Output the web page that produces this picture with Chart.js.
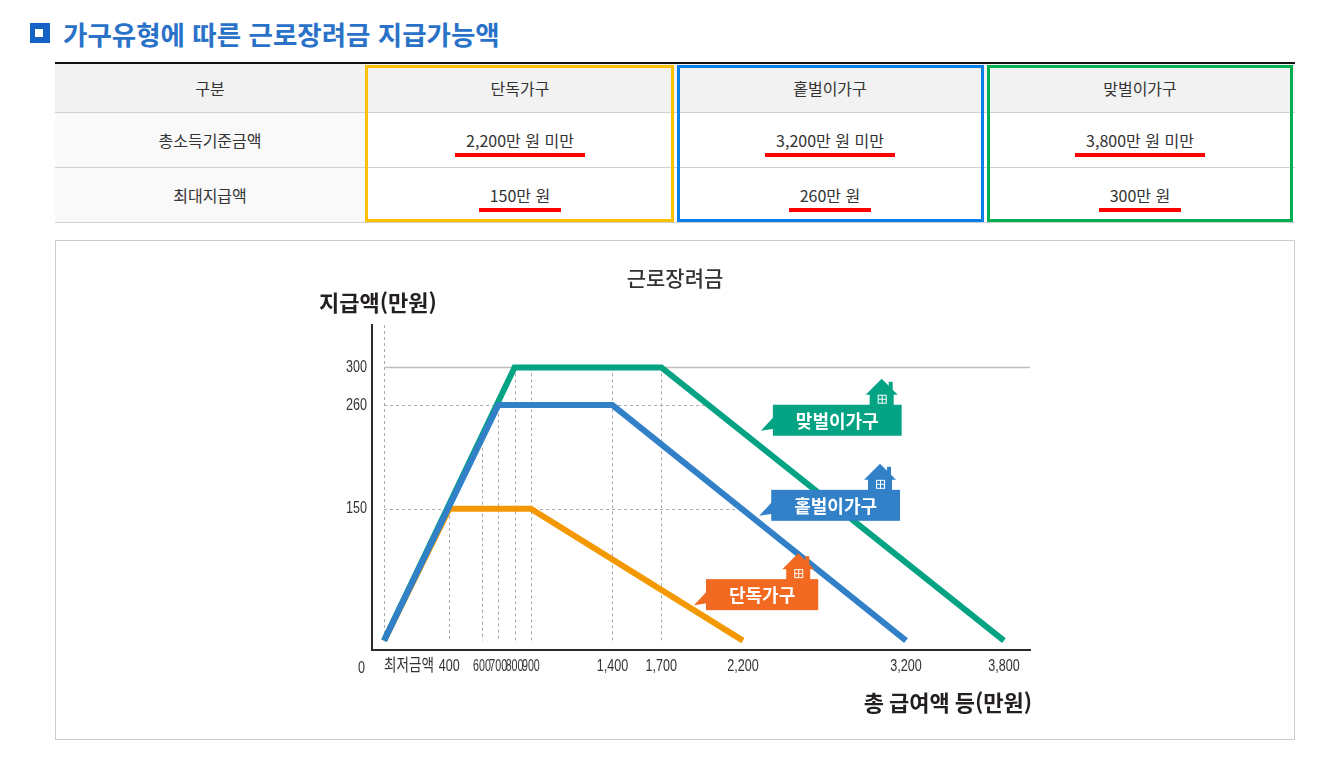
<!DOCTYPE html>
<html lang="ko">
<head>
<meta charset="utf-8">
<title>가구유형에 따른 근로장려금 지급가능액</title>
<script src="https://cdn.jsdelivr.net/npm/chart.js@4.4.1/dist/chart.umd.min.js"></script>
<style>
  body { margin: 0; width: 1319px; height: 774px; background: #fff; position: relative; overflow: hidden;
         font-family: 'Noto Sans CJK KR', 'Noto Sans', sans-serif; color: #333; }
  .heading { position: absolute; left: 30px; top: 12px; height: 42px; display: flex; align-items: center; }
  .heading .icon { width: 20px; height: 20px; background: #1462c4; position: relative; margin-right: 13px; }
  .heading .icon::after { content: ''; position: absolute; left: 5px; top: 6px; width: 8px; height: 8px; background: #fff; }
  .heading h2 { margin: 0; font-size: 26.5px; font-weight: 700; color: #2a72c8; }

  table.summary { position: absolute; left: 55px; top: 62px; width: 1240px; border-collapse: collapse;
                  border-top: 2px solid #111; table-layout: fixed; font-size: 16px; }
  table.summary th, table.summary td { padding: 0; text-align: center; font-weight: 400; color: #333;
                                       border-bottom: 1px solid #cfcfcf; }
  table.summary th { height: 48px; background: #f2f2f2; }
  table.summary td { height: 54px; background: #fff; }
  table.summary td.rowhead { background: #f9f9f9; }
  table.summary .mark { display: inline-block; line-height: 20px; padding: 7px 11px 3px; border-bottom: 4px solid #f00; }

  .frame { position: absolute; top: 65px; height: 157px; box-sizing: border-box; border: 3px solid; }

  #chartBox { position: absolute; left: 55px; top: 240px; width: 1240px; height: 500px;
              border: 1px solid #cccccc; box-sizing: border-box; }
  #chartBox .wrap { position: absolute; left: 0; top: 0; width: 1238px; height: 498px; }
</style>
</head>
<body>
<div class="heading"><span class="icon"></span><h2>가구유형에 따른 근로장려금 지급가능액</h2></div>

<table class="summary" id="summary"></table>
<div class="frame" style="left:365px;width:309px;border-color:#ffc000;"></div>
<div class="frame" style="left:677px;width:307px;border-color:#0a7fe8;"></div>
<div class="frame" style="left:987px;width:306px;border-color:#00b050;"></div>

<div id="chartBox"><div class="wrap"><canvas id="eitc"></canvas></div></div>

<script>
// 표 데이터
const households = ['단독가구', '홑벌이가구', '맞벌이가구'];
const incomeLimit = ['2,200만 원 미만', '3,200만 원 미만', '3,800만 원 미만'];
const maxAmount = ['150만 원', '260만 원', '300만 원'];

// 그래프 데이터 (총 급여액 등, 지급액 : 만원)
const singleX = [0, 400, 900, 2200];
const singleY = [10, 150, 150, 10];
const oneEarnerX = [0, 700, 1400, 3200];
const oneEarnerY = [10, 260, 260, 10];
const dualX = [0, 800, 1700, 3800];
const dualY = [10, 300, 300, 10];

// 축 눈금
const xTicks = [0, 400, 600, 700, 800, 900, 1400, 1700, 2200, 3200, 3800];
const xTickLabels = ['최저금액', '400', '600', '700', '800', '900', '1,400', '1,700', '2,200', '3,200', '3,800'];
const yTicks = [150, 260, 300];
const guideX = [0, 400, 600, 700, 800, 900, 1400, 1700];

// ---- table ----
(function buildTable() {
  const t = document.getElementById('summary');
  let html = '<colgroup><col><col><col><col></colgroup>';
  html += '<tr><th>구분</th>' + households.map(h => '<th>' + h + '</th>').join('') + '</tr>';
  html += '<tr><td class="rowhead">총소득기준금액</td>' +
    incomeLimit.map(v => '<td><span class="mark">' + v + '</span></td>').join('') + '</tr>';
  html += '<tr><td class="rowhead">최대지급액</td>' +
    maxAmount.map(v => '<td><span class="mark">' + v + '</span></td>').join('') + '</tr>';
  t.innerHTML = html;
})();

// ---- chart ----
// at / gap : where the label balloon points at its line
const series = [
  { label: households[0], xs: singleX, ys: singleY, line: '#f39800', box: '#f26a21', at: 1900, gap: 5, order: 2 },
  { label: households[1], xs: oneEarnerX, ys: oneEarnerY, line: '#3180c8', box: '#3180c8', at: 2300, gap: 7, order: 0 },
  { label: households[2], xs: dualX, ys: dualY, line: '#03a383', box: '#03a383', at: 2310, gap: 16, order: 1 }
];

function valueAt(xs, ys, x) {
  for (let i = 0; i < xs.length - 1; i++) {
    if (x >= xs[i] && x <= xs[i + 1]) {
      const t = (x - xs[i]) / (xs[i + 1] - xs[i]);
      return ys[i] + t * (ys[i + 1] - ys[i]);
    }
  }
  return null;
}

// where the falling part of a series comes down to v
function fallsTo(xs, ys, v) {
  for (let i = xs.length - 2; i >= 0; i--) {
    if (ys[i] > ys[i + 1] && ys[i] >= v && ys[i + 1] <= v) {
      return xs[i] + (ys[i] - v) / (ys[i] - ys[i + 1]) * (xs[i + 1] - xs[i]);
    }
  }
  return null;
}

const tickFont = { family: "'Liberation Sans', 'Noto Sans CJK KR', sans-serif", size: 17 };
const titleFont = "700 22px 'Noto Sans CJK KR', sans-serif";

// squeeze tick labels so they look condensed like the original artwork
const narrowTicks = {
  id: 'narrowTicks',
  beforeDraw(chart) {
    const ctx = chart.ctx;
    ['x', 'y'].forEach(id => {
      const scale = chart.scales[id];
      const items = scale.getLabelItems(chart.chartArea);
      const pix = scale.ticks.map(t => scale.getPixelForValue(t.value));
      items.forEach((it, i) => {
        if (!it.label) return;
        ctx.font = it.font.string;
        const w = ctx.measureText(it.label).width;
        let maxW = w * (/[^\x00-\x7f]/.test(it.label) ? 0.8 : 0.74);
        if (id === 'x' && i > 0) {
          const prev = pix[i] - pix[i - 1];
          const next = items[i + 1] && items[i + 1].label ? pix[i + 1] - pix[i] : Infinity;
          maxW = Math.min(maxW, Math.min(prev, next) + 1.5);
        }
        it.options.maxWidth = maxW;
      });
    });
  }
};

const guides = {
  id: 'guides',
  beforeDatasetsDraw(chart) {
    const { ctx, chartArea: a, scales: { x, y } } = chart;
    const base = y.getPixelForValue(singleY[0]);
    const x0 = x.getPixelForValue(0);
    ctx.save();
    ctx.lineWidth = 1;
    ctx.strokeStyle = '#a9a9a9';
    ctx.setLineDash([3, 3]);
    guideX.forEach((v, i) => {
      let top = a.top;
      if (i > 0) {
        const vals = series.map(s => valueAt(s.xs, s.ys, v)).filter(n => n !== null);
        top = y.getPixelForValue(Math.max(...vals));
      }
      const px = Math.round(x.getPixelForValue(v)) + 0.5;
      ctx.beginPath(); ctx.moveTo(px, top); ctx.lineTo(px, base); ctx.stroke();
    });
    series.forEach((s, i) => {
      const peak = Math.max(...s.ys);
      const py = Math.round(y.getPixelForValue(peak)) + 0.5;
      const outer = series[i + 1];
      ctx.beginPath();
      if (outer) {
        ctx.setLineDash([3, 3]);
        ctx.strokeStyle = '#a9a9a9';
        ctx.lineWidth = 1;
        ctx.moveTo(x0, py); ctx.lineTo(x.getPixelForValue(fallsTo(outer.xs, outer.ys, peak)), py);
      } else {
        ctx.setLineDash([]);
        ctx.strokeStyle = '#bdbdbd';
        ctx.lineWidth = 1.5;
        ctx.moveTo(x0, py); ctx.lineTo(a.right, py);
      }
      ctx.stroke();
    });
    ctx.restore();
  }
};

function drawHouse(ctx, right, baseY, color) {
  const l = right - 32;
  ctx.fillStyle = color;
  ctx.fillRect(l + 23, baseY - 23, 4, 10);
  ctx.beginPath();
  ctx.moveTo(l, baseY - 10); ctx.lineTo(l + 16, baseY - 26); ctx.lineTo(l + 32, baseY - 10);
  ctx.closePath(); ctx.fill();
  ctx.fillRect(l + 4, baseY - 11, 24, 12);
  ctx.strokeStyle = '#fff';
  ctx.lineWidth = 1;
  ctx.strokeRect(l + 12.5, baseY - 9.5, 8, 8);
  ctx.beginPath();
  ctx.moveTo(l + 16.5, baseY - 9.5); ctx.lineTo(l + 16.5, baseY - 1.5);
  ctx.moveTo(l + 12.5, baseY - 5.5); ctx.lineTo(l + 20.5, baseY - 5.5);
  ctx.stroke();
}

const decorations = {
  id: 'decorations',
  afterDraw(chart) {
    const { ctx, chartArea: a, scales: { x, y } } = chart;
    ctx.save();
    // chart title
    ctx.fillStyle = '#333';
    ctx.textAlign = 'center';
    ctx.textBaseline = 'middle';
    ctx.font = "500 21px 'Noto Sans CJK KR', sans-serif";
    ctx.fillText('근로장려금', chart.width / 2, 37);
    // axis titles
    ctx.fillStyle = '#231f20';
    ctx.font = titleFont;
    ctx.textAlign = 'left';
    ctx.fillText('지급액(만원)', a.left - 53, a.top - 22);
    ctx.textAlign = 'right';
    ctx.fillText('총 급여액 등(만원)', a.right + 2, a.bottom + 53);
    // origin
    ctx.fillStyle = '#333';
    ctx.font = tickFont.size + 'px ' + tickFont.family;
    ctx.fillText('0', a.left - 7, a.bottom + 18, 7);

    // callouts
    ctx.font = "700 18px 'Noto Sans CJK KR', sans-serif";
    series.forEach(s => {
      const tipX = x.getPixelForValue(s.at);
      const tipY = y.getPixelForValue(valueAt(s.xs, s.ys, s.at)) - s.gap;
      const w = ctx.measureText(s.label).width + 46;
      const h = 31;
      const left = tipX + 12, top = tipY - 26;
      ctx.fillStyle = s.box;
      ctx.beginPath();
      ctx.moveTo(left + 1, top + 12); ctx.lineTo(tipX, tipY); ctx.lineTo(left + 1, top + 24);
      ctx.closePath(); ctx.fill();
      ctx.fillRect(left, top, w, h);
      drawHouse(ctx, left + w - 4, top, s.box);
      ctx.fillStyle = '#fff';
      ctx.textAlign = 'center';
      ctx.textBaseline = 'middle';
      ctx.fillText(s.label, left + w / 2, top + h / 2 + 1);
    });
    ctx.restore();
  }
};

new Chart(document.getElementById('eitc'), {
  type: 'line',
  data: {
    datasets: series.map(s => ({
      label: s.label,
      data: s.xs.map((v, i) => ({ x: v, y: s.ys[i] })),
      borderColor: s.line,
      borderWidth: 6,
      borderJoinStyle: 'miter',
      borderCapStyle: 'butt',
      pointRadius: 0,
      tension: 0,
      fill: false,
      order: s.order
    }))
  },
  options: {
    responsive: true,
    maintainAspectRatio: false,
    animation: false,
    layout: { padding: { left: 256, right: 264, top: 84, bottom: 49 } },
    plugins: { legend: { display: false }, tooltip: { enabled: false }, title: { display: false } },
    scales: {
      x: {
        type: 'linear',
        min: -74,
        max: 3960,
        afterBuildTicks: scale => {
          scale.ticks = xTicks.map(v => ({ value: v }));
          scale.ticks.push({ value: scale.max });
        },
        afterFit: scale => { scale.height = 40; },
        grid: { display: false, drawTicks: false },
        border: { display: true, color: '#2b2b2b', width: 2 },
        ticks: {
          autoSkip: false,
          maxRotation: 0,
          minRotation: 0,
          align: 'inner',
          padding: 6,
          color: '#333',
          font: tickFont,
          callback: v => { const i = xTicks.indexOf(v); return i < 0 ? '' : xTickLabels[i]; }
        }
      },
      y: {
        type: 'linear',
        min: 0,
        max: 345,
        afterBuildTicks: scale => { scale.ticks = yTicks.map(v => ({ value: v })); },
        afterFit: scale => { scale.width = 60; },
        grid: { display: false, drawTicks: false },
        border: { display: true, color: '#2b2b2b', width: 2 },
        ticks: { padding: 5, color: '#333', font: tickFont, callback: v => String(v) }
      }
    }
  },
  plugins: [narrowTicks, guides, decorations]
});
</script>
</body>
</html>
